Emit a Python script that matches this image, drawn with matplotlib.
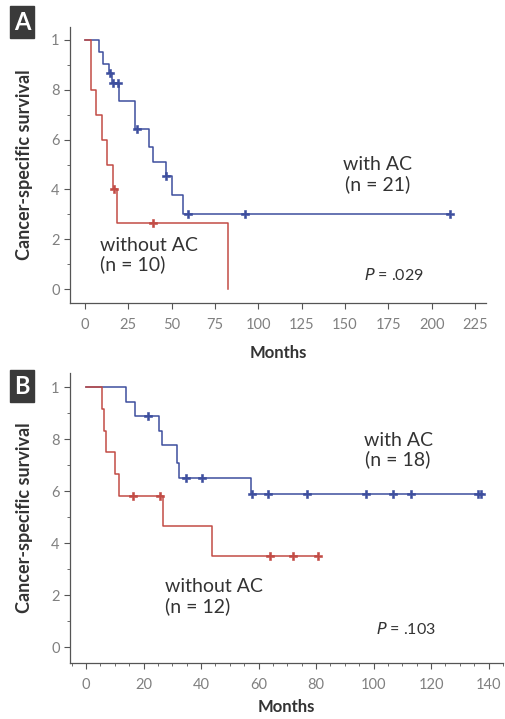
import matplotlib
matplotlib.use('Agg')
import matplotlib.pyplot as plt
from matplotlib.ticker import MultipleLocator

plt.rcParams['font.family'] = ['Lato', 'DejaVu Sans']

# panel A: with AC (n = 21)
a_with_t = [0, 8.3, 10.2, 14.0, 15.8, 19.8, 28.9, 37.1, 39.0, 46.7, 50.0, 56.4, 210.6]
a_with_s = [1.0, 0.952, 0.905, 0.869, 0.826, 0.755, 0.643, 0.571, 0.511, 0.455, 0.379, 0.303, 0.303]
a_with_cens_t = [14.4, 16.3, 18.8, 29.9, 46.7, 59.6, 92.3, 210.6]
a_with_cens_s = [0.869, 0.826, 0.826, 0.643, 0.455, 0.303, 0.303, 0.303]
# panel A: without AC (n = 10)
a_wo_t = [0, 3.3, 6.2, 9.6, 12.9, 16.0, 18.3, 82.3]
a_wo_s = [1.0, 0.8, 0.7, 0.6, 0.5, 0.4, 0.267, 0.0]
a_wo_cens_t = [16.9, 39.0]
a_wo_cens_s = [0.4, 0.267]

# panel B: with AC (n = 18)
b_with_t = [0, 13.8, 17.0, 25.4, 26.5, 31.5, 32.3, 57.3, 138.0]
b_with_s = [1.0, 0.944, 0.889, 0.833, 0.778, 0.708, 0.65, 0.59, 0.59]
b_with_cens_t = [21.4, 34.7, 40.2, 57.6, 63.4, 76.8, 97.4, 106.7, 112.9, 136.2, 137.2]
b_with_cens_s = [0.889, 0.65, 0.65, 0.59, 0.59, 0.59, 0.59, 0.59, 0.59, 0.59, 0.59]
# panel B: without AC (n = 12)
b_wo_t = [0, 5.7, 6.4, 7.1, 10.0, 11.6, 26.9, 43.9, 80.6]
b_wo_s = [1.0, 0.917, 0.833, 0.75, 0.667, 0.583, 0.467, 0.35, 0.35]
b_wo_cens_t = [16.5, 25.7, 64.0, 71.9, 80.6]
b_wo_cens_s = [0.583, 0.583, 0.35, 0.35, 0.35]

y_ticks = [0, 0.2, 0.4, 0.6, 0.8, 1.0]
y_ticklabels = ['0', '2', '4', '6', '8', '1']
a_xticks = [0, 25, 50, 75, 100, 125, 150, 175, 200, 225]
b_xticks = [0, 20, 40, 60, 80, 100, 120, 140]

blue = '#3d4e9e'
red = '#c24b45'

fig = plt.figure(figsize=(5.05, 7.19), dpi=100)
axA = fig.add_axes([70/505, 1-303/719, 416/505, 276/719])
axB = fig.add_axes([70/505, 1-662.7/719, 433/505, 289.7/719])


def km(ax, t, s, ct, cs, color):
    ax.step(t, s, where='post', color=color, lw=1.1)
    ax.plot(ct, cs, ls='none', marker='P', ms=6, color=color, mec=color, mew=0.4)


def style(ax, xticks, xlim, ylim, xminor, xlabelpad):
    for sp in ['top', 'right']:
        ax.spines[sp].set_visible(False)
    for sp in ['left', 'bottom']:
        ax.spines[sp].set_color('#555555')
        ax.spines[sp].set_linewidth(0.9)
    ax.set_xlim(xlim)
    ax.set_ylim(ylim)
    ax.set_xticks(xticks)
    ax.set_yticks(y_ticks)
    ax.set_yticklabels(y_ticklabels)
    if xminor:
        ax.xaxis.set_minor_locator(MultipleLocator(xminor))
    ax.yaxis.set_minor_locator(MultipleLocator(0.1))
    ax.tick_params(which='major', length=4, color='#555555', labelcolor='#808080',
                   labelsize=10.5)
    ax.tick_params(axis='x', which='major', pad=7)
    ax.tick_params(which='minor', length=2, color='#555555')
    ax.set_ylabel('Cancer-specific survival', fontsize=13, fontweight='bold',
                  color='#333333', labelpad=13)
    ax.set_xlabel('Months', fontsize=12, fontweight='bold', color='#333333',
                  labelpad=xlabelpad)


km(axA, a_with_t, a_with_s, a_with_cens_t, a_with_cens_s, blue)
km(axA, a_wo_t, a_wo_s, a_wo_cens_t, a_wo_cens_s, red)
style(axA, a_xticks, (-8.65, 231.4), (-0.056, 1.052), None, 9)

km(axB, b_with_t, b_with_s, b_with_cens_t, b_with_cens_s, blue)
km(axB, b_wo_t, b_wo_s, b_wo_cens_t, b_wo_cens_s, red)
style(axB, b_xticks, (-5.57, 145), (-0.059, 1.055), 5, 5)

txt = dict(fontsize=14, color='#333333', linespacing=1.1)
axA.text(169, 0.46, 'with AC\n(n = 21)', ha='center', va='center', **txt)
axA.text(8.5, 0.135, 'without AC\n(n = 10)', ha='left', va='center', **txt)
axA.text(161, 0.055, '$\\it{P}$ = .029', ha='left', va='center', fontsize=11.5, color='#333333')

axB.text(108.5, 0.76, 'with AC\n(n = 18)', ha='center', va='center', **txt)
axB.text(27.5, 0.195, 'without AC\n(n = 12)', ha='left', va='center', **txt)
axB.text(101, 0.07, '$\\it{P}$ = .103', ha='left', va='center', fontsize=11.5, color='#333333')

box = dict(boxstyle='square,pad=0.18', fc='#3a3a3a', ec='#3a3a3a')
fig.text(22/505, 1-22/719, 'A', ha='center', va='center', fontsize=17, fontweight='bold',
         color='white', bbox=box)
fig.text(22/505, 1-386/719, 'B', ha='center', va='center', fontsize=17, fontweight='bold',
         color='white', bbox=box)

fig.savefig('out.png', dpi=100)
